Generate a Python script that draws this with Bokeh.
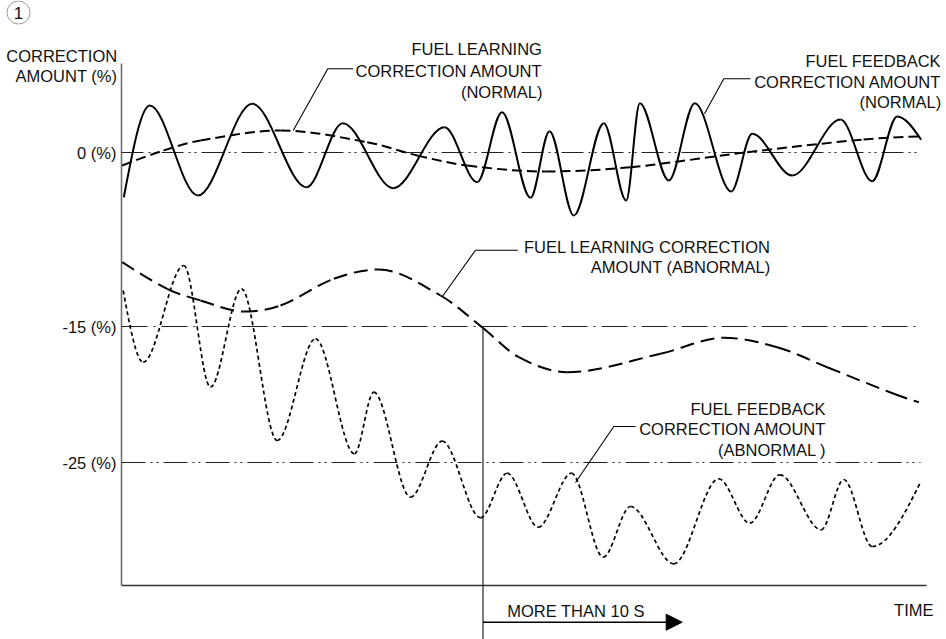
import numpy as np
from bokeh.plotting import figure
from bokeh.models import Range1d, Arrow, NormalHead, ColumnDataSource
from bokeh.core.properties import value
from bokeh.embed import file_html
from bokeh.resources import INLINE

# ---- data (time units from the y axis, amount level units above the time axis) ----
# Fuel feedback correction amount (normal) - turning points of the solid wave
fb_norm_t = [2.3, 28.3, 76.3, 130.7, 185.0, 221.3, 271.7, 323.0, 355.7, 380.5, 409.0, 428.0, 452.3,
             482.3, 504.7, 518.3, 547.3, 573.3, 609.7, 630.7, 670.7, 719.0, 750.7, 775.7, 799.7]
fb_norm_a = [388.3, 480.0, 390.0, 481.7, 398.3, 462.3, 397.3, 458.3, 403.3, 473.3, 387.7, 454.3, 370.0,
             462.3, 385.0, 482.3, 405.0, 482.3, 394.0, 451.7, 410.0, 466.0, 404.3, 469.0, 445.7]

# Fuel learning correction amount (normal) - long dashed
ln_norm_t = [0.7, 42.0, 79.0, 159.0, 245.7, 295.7, 345.7, 424.0, 509.0, 625.7, 742.0, 797.0]
ln_norm_a = [420.0, 435.0, 445.0, 455.0, 443.3, 430.0, 420.0, 414.0, 418.3, 433.3, 446.0, 449.0]

# Fuel learning correction amount (abnormal) - long dashed
ln_abn_t = [0.7, 45.7, 79.0, 122.3, 159.0, 212.3, 257.3, 319.0, 361.5, 397.3, 445.7, 539.0, 602.3,
            655.7, 705.7, 772.3, 797.3]
ln_abn_a = [323.3, 296.7, 285.0, 274.0, 280.0, 306.7, 316.0, 290.0, 257.5, 228.3, 213.3, 231.7, 247.7,
            238.3, 218.3, 191.7, 183.3]

# Fuel feedback correction amount (abnormal) - fine dashed wave turning points
fb_abn_t = [1.7, 21.7, 62.3, 89.0, 120.0, 155.7, 194.0, 233.0, 252.3, 289.0, 320.7, 359.0, 385.7,
            416.7, 450.0, 481.7, 509.0, 552.3, 597.3, 628.3, 658.3, 699.7, 722.3, 750.7, 799.0]
fb_abn_a = [295.0, 223.3, 320.0, 198.3, 296.7, 145.0, 246.7, 131.7, 193.3, 88.3, 144.3, 67.7, 112.3,
            58.3, 112.3, 28.3, 79.0, 21.7, 106.7, 62.3, 110.7, 55.7, 106.0, 39.0, 103.3]

# reference levels and their labels
ref_levels = [433.0, 259.0, 123.0]
ref_labels = ["0 (%)", "-15 (%)", "-25 (%)"]
ref_end_t = 799.0
marker_t = 361.5          # where abnormal learning crosses -15 %
axis_t_end = 805.0
axis_a_end = 522.0

FONT = value("Liberation Sans")
FS = "16.5px"


def bezier_source(ts, vs):
    xs = np.asarray(ts, float)
    ys = np.asarray(vs, float)
    n = len(xs)
    sec = np.diff(ys) / np.diff(xs)
    m = np.zeros(n)
    for i in range(1, n - 1):
        if sec[i - 1] * sec[i] > 0:
            m[i] = (ys[i + 1] - ys[i - 1]) / (xs[i + 1] - xs[i - 1])
    m[0] = (3 * sec[0] - m[1]) / 2
    m[-1] = (3 * sec[-1] - m[-2]) / 2
    dx = np.diff(xs)
    return ColumnDataSource(dict(
        x0=xs[:-1], y0=ys[:-1], x1=xs[1:], y1=ys[1:],
        cx0=xs[:-1] + dx / 3, cy0=ys[:-1] + m[:-1] * dx / 3,
        cx1=xs[1:] - dx / 3, cy1=ys[1:] - m[1:] * dx / 3))


p = figure(width=946, height=639, x_range=Range1d(-121, 825), y_range=Range1d(-54, 585),
           x_axis_location=None, y_axis_location=None, toolbar_location=None,
           output_backend="svg", min_border=0, outline_line_color=None,
           background_fill_color="white", border_fill_color="white")
p.xgrid.visible = False
p.ygrid.visible = False

# axes
p.line(x=[0, 0], y=[0, axis_a_end], line_color="#707070", line_width=1.6)
p.line(x=[0, axis_t_end], y=[0, 0], line_color="#333333", line_width=1.4)

# reference dash-dot lines
ref_dash = ["22 5 2 4 2 5", "26 6 2 6", "24 5 2 4 2 5"]
for lvl, dsh in zip(ref_levels, ref_dash):
    p.line(x=[0, ref_end_t], y=[lvl, lvl], line_color="#222222", line_width=1.2, line_dash=dsh)

# tick labels
p.text(x=[-5] * 3, y=ref_levels, text=ref_labels, text_align="right", text_baseline="middle",
       text_font=FONT, text_font_size=FS, text_color="#111111")

# curves
p.bezier(x0="x0", y0="y0", x1="x1", y1="y1", cx0="cx0", cy0="cy0", cx1="cx1", cy1="cy1",
         source=bezier_source(fb_norm_t, fb_norm_a), line_color="black", line_width=2)
p.bezier(x0="x0", y0="y0", x1="x1", y1="y1", cx0="cx0", cy0="cy0", cx1="cx1", cy1="cy1",
         source=bezier_source(ln_norm_t, ln_norm_a), line_color="black", line_width=2,
         line_dash="10 5")
p.bezier(x0="x0", y0="y0", x1="x1", y1="y1", cx0="cx0", cy0="cy0", cx1="cx1", cy1="cy1",
         source=bezier_source(ln_abn_t, ln_abn_a), line_color="black", line_width=2,
         line_dash="14 7")
p.bezier(x0="x0", y0="y0", x1="x1", y1="y1", cx0="cx0", cy0="cy0", cx1="cx1", cy1="cy1",
         source=bezier_source(fb_abn_t, fb_abn_a), line_color="black", line_width=1.7,
         line_dash="4 3")

# vertical marker and time arrow
p.line(x=[marker_t, marker_t], y=[ref_levels[1], -54], line_color="#222222", line_width=1.2)
p.add_layout(Arrow(x_start=marker_t, y_start=-36.7, x_end=560.7, y_end=-36.7,
                   line_color="black", line_width=1.4,
                   end=NormalHead(size=16, fill_color="black", line_color="black")))

# leader lines
leaders_x = [[171.7, 206.3, 231.7], [583.0, 602.3, 629.0], [320.7, 354.0, 396.3], [454.0, 492.3, 514.0]]
leaders_y = [[455.0, 516.7, 516.7], [471.7, 506.7, 506.7], [288.7, 335.3, 335.3], [103.0, 159.0, 159.0]]
p.multi_line(xs=leaders_x, ys=leaders_y, line_color="black", line_width=1.1)


def label(x, ys, lines, align="right", size=FS):
    p.text(x=[x] * len(lines), y=ys, text=lines, text_align=align, text_baseline="middle",
           text_font=FONT, text_font_size=size, text_color="#111111")


label(-4.3, [530, 510], ["CORRECTION", "AMOUNT (%)"])
label(421, [536.2, 515, 494], ["FUEL LEARNING", "CORRECTION AMOUNT", "(NORMAL)"])
label(819.7, [524.5, 504, 483.5], ["FUEL FEEDBACK", "CORRECTION AMOUNT", "(NORMAL)"])
label(649, [338.2, 318.2], ["FUEL LEARNING CORRECTION", "AMOUNT (ABNORMAL)"])
label(704.7, [176.2, 156.5, 136], ["FUEL FEEDBACK", "CORRECTION AMOUNT", "(ABNORMAL )"])
label(812, [-24], ["TIME"])
label(385.7, [-25], ["MORE THAN 10 S"], align="left")

# circled figure number
p.scatter(x=[-103], y=[573], marker="circle", size=23, fill_color=None,
          line_color="#9a9a9a", line_width=1)
label(-103, [573], ["1"], align="center", size="17px")

open("out.html", "w").write(file_html(p, INLINE))
